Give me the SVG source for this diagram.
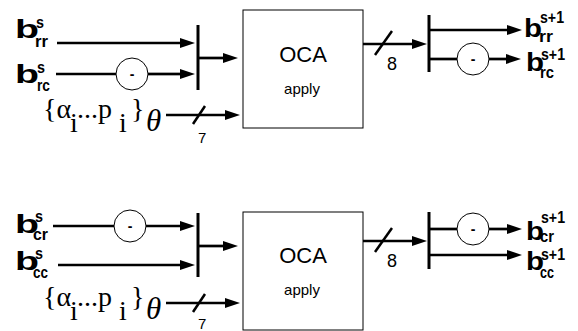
<svg xmlns="http://www.w3.org/2000/svg" width="578" height="331" viewBox="0 0 578 331">
<defs>
<marker id="ah" markerUnits="userSpaceOnUse" markerWidth="15" markerHeight="10" refX="0" refY="5" orient="auto" overflow="visible">
<path d="M0,0 L15,5 L0,10 z" fill="#000"/>
</marker>
<style>
.box{fill:#fff;stroke:#000;stroke-width:1}
.neg{fill:#fff;stroke:#000;stroke-width:1}
.bar{stroke:#000;stroke-width:3;fill:none}
.w{stroke:#000;stroke-width:2.7;fill:none}
.a{stroke:#000;stroke-width:2.7;fill:none;marker-end:url(#ah)}
.sl{stroke:#000;stroke-width:2.5}
.b{font-family:"Liberation Sans",Arial,sans-serif;font-weight:bold;font-size:25px}
.sp{font-family:"Liberation Sans",Arial,sans-serif;font-weight:bold;font-size:17px}
.t{font-family:"Liberation Sans",Arial,sans-serif;fill:#000}
.m{font-family:"Liberation Serif","Times New Roman",serif;font-size:28px}
.th{font-family:"Liberation Serif","Times New Roman",serif;font-style:italic;font-size:31px}
</style>
</defs>

<g id="connectors">
<!-- top -->
<line class="a" x1="57" y1="43" x2="180" y2="43"/>
<line class="w" x1="56" y1="74" x2="116" y2="74"/>
<line class="a" x1="148" y1="74" x2="180" y2="74"/>
<line class="a" x1="198" y1="58" x2="223" y2="58"/>
<line class="a" x1="166" y1="115" x2="225" y2="115"/>
<line class="sl" x1="193" y1="124" x2="205" y2="106"/>
<line class="a" x1="363" y1="44" x2="412" y2="44"/>
<line class="sl" x1="375" y1="55" x2="392" y2="31"/>
<line class="a" x1="429" y1="30" x2="507" y2="30"/>
<line class="w" x1="429" y1="59" x2="457" y2="59"/>
<line class="a" x1="489" y1="59" x2="506" y2="59"/>
<!-- bottom -->
<line class="w" x1="53" y1="226" x2="114" y2="226"/>
<line class="a" x1="146" y1="226" x2="180" y2="226"/>
<line class="a" x1="58" y1="265" x2="180" y2="265"/>
<line class="a" x1="198" y1="246" x2="223" y2="246"/>
<line class="a" x1="166" y1="303" x2="225" y2="303"/>
<line class="sl" x1="193" y1="312" x2="205" y2="294"/>
<line class="a" x1="363" y1="241" x2="412" y2="241"/>
<line class="sl" x1="375" y1="252" x2="392" y2="228"/>
<line class="w" x1="429" y1="229" x2="457" y2="229"/>
<line class="a" x1="489" y1="229" x2="507" y2="229"/>
<line class="a" x1="429" y1="255" x2="507" y2="255"/>
</g>

<g id="bar-in-top"><line class="bar" x1="198" y1="25" x2="198" y2="90"/></g>
<g id="bar-out-top"><line class="bar" x1="429" y1="15" x2="429" y2="72"/></g>
<g id="bar-in-bottom"><line class="bar" x1="198" y1="213" x2="198" y2="277"/></g>
<g id="bar-out-bottom"><line class="bar" x1="429" y1="212" x2="429" y2="269"/></g>

<g id="oca-top">
<rect class="box" x="243" y="10" width="120" height="118"/>
<text class="t" x="303" y="62" font-size="22" text-anchor="middle">OCA</text>
<text class="t" x="302" y="94" font-size="15" text-anchor="middle">apply</text>
</g>
<g id="oca-bottom">
<rect class="box" x="243" y="212" width="120" height="118"/>
<text class="t" x="303" y="263" font-size="22" text-anchor="middle">OCA</text>
<text class="t" x="302" y="295" font-size="15" text-anchor="middle">apply</text>
</g>

<g id="neg-in-top"><circle class="neg" cx="132" cy="74" r="16"/><text class="t" x="132" y="79" font-size="14" font-weight="bold" text-anchor="middle">-</text></g>
<g id="neg-out-top"><circle class="neg" cx="473" cy="59" r="16"/><text class="t" x="473" y="64" font-size="14" font-weight="bold" text-anchor="middle">-</text></g>
<g id="neg-in-bottom"><circle class="neg" cx="130" cy="226" r="16"/><text class="t" x="130" y="231" font-size="14" font-weight="bold" text-anchor="middle">-</text></g>
<g id="neg-out-bottom"><circle class="neg" cx="473" cy="229" r="16"/><text class="t" x="473" y="234" font-size="14" font-weight="bold" text-anchor="middle">-</text></g>

<g id="widths">
<text class="t" x="198" y="143" font-size="15">7</text>
<text class="t" x="387" y="70" font-size="18">8</text>
<text class="t" x="198" y="329" font-size="15">7</text>
<text class="t" x="387" y="267" font-size="18">8</text>
</g>

<g id="label-in-top">
<text class="b" x="15" y="38" textLength="24" lengthAdjust="spacingAndGlyphs">b</text>
<text class="sp" x="36" y="28" textLength="8" lengthAdjust="spacingAndGlyphs">s</text>
<text class="sp" x="35" y="47" textLength="13" lengthAdjust="spacingAndGlyphs">rr</text>
<text class="b" x="15" y="83" textLength="24" lengthAdjust="spacingAndGlyphs">b</text>
<text class="sp" x="37" y="73" textLength="8" lengthAdjust="spacingAndGlyphs">s</text>
<text class="sp" x="37" y="91" textLength="13" lengthAdjust="spacingAndGlyphs">rc</text>
<text class="m" y="118"><tspan x="43">{α</tspan><tspan x="70" y="132">i</tspan><tspan x="77" y="118">...</tspan><tspan x="98">p</tspan><tspan x="119" y="132">i</tspan><tspan x="131" y="118">}</tspan></text>
<text class="th" x="146" y="131">θ</text>
</g>
<g id="label-out-top">
<text class="b" x="524" y="37" textLength="18" lengthAdjust="spacingAndGlyphs">b</text>
<text class="sp" x="540" y="23" textLength="24" lengthAdjust="spacingAndGlyphs">s+1</text>
<text class="sp" x="539" y="42" textLength="14" lengthAdjust="spacingAndGlyphs">rr</text>
<text class="b" x="526" y="71" textLength="18" lengthAdjust="spacingAndGlyphs">b</text>
<text class="sp" x="541" y="60" textLength="24" lengthAdjust="spacingAndGlyphs">s+1</text>
<text class="sp" x="540" y="78" textLength="14" lengthAdjust="spacingAndGlyphs">rc</text>
</g>
<g id="label-in-bottom">
<text class="b" x="15" y="233" textLength="24" lengthAdjust="spacingAndGlyphs">b</text>
<text class="sp" x="35" y="222" textLength="8" lengthAdjust="spacingAndGlyphs">s</text>
<text class="sp" x="33" y="240" textLength="15" lengthAdjust="spacingAndGlyphs">cr</text>
<text class="b" x="15" y="270" textLength="24" lengthAdjust="spacingAndGlyphs">b</text>
<text class="sp" x="35" y="259" textLength="8" lengthAdjust="spacingAndGlyphs">s</text>
<text class="sp" x="33" y="278" textLength="15" lengthAdjust="spacingAndGlyphs">cc</text>
<text class="m" y="306"><tspan x="43">{α</tspan><tspan x="70" y="320">i</tspan><tspan x="77" y="306">...</tspan><tspan x="98">p</tspan><tspan x="119" y="320">i</tspan><tspan x="131" y="306">}</tspan></text>
<text class="th" x="146" y="319">θ</text>
</g>
<g id="label-out-bottom">
<text class="b" x="526" y="240" textLength="18" lengthAdjust="spacingAndGlyphs">b</text>
<text class="sp" x="541" y="223" textLength="24" lengthAdjust="spacingAndGlyphs">s+1</text>
<text class="sp" x="540" y="242" textLength="14" lengthAdjust="spacingAndGlyphs">cr</text>
<text class="b" x="526" y="270" textLength="18" lengthAdjust="spacingAndGlyphs">b</text>
<text class="sp" x="541" y="260" textLength="24" lengthAdjust="spacingAndGlyphs">s+1</text>
<text class="sp" x="540" y="278" textLength="14" lengthAdjust="spacingAndGlyphs">cc</text>
</g>
</svg>
